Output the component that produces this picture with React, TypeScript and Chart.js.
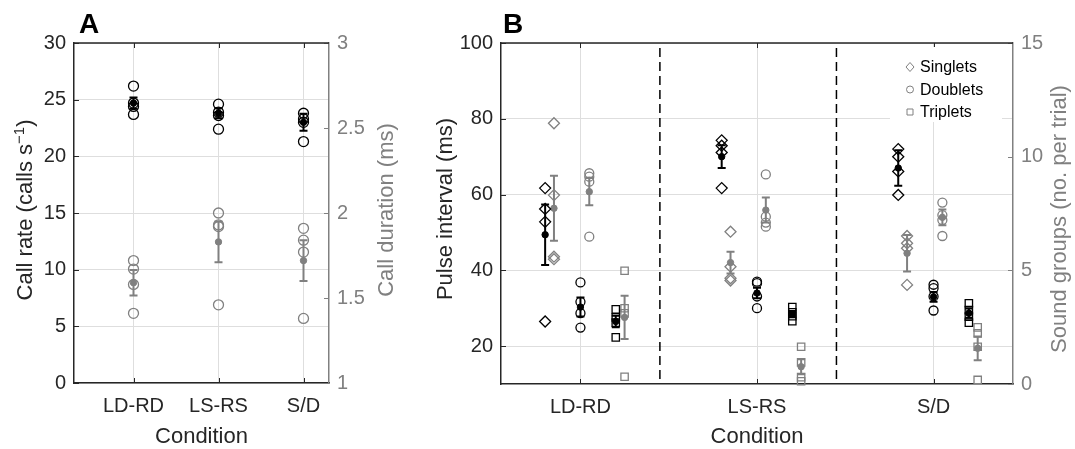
import React, { useEffect, useRef } from 'react';
import { Chart, registerables } from 'chart.js';
Chart.register(...registerables);

const FONT = '"Liberation Sans", Arial, Helvetica, sans-serif';
const DARK = '#262626';
const GRAY = '#808080';
const GRID = '#dedede';

const conditions = ['LD-RD', 'LS-RS', 'S/D'];

// ---------- Panel A ----------
const rateTicks = [0, 5, 10, 15, 20, 25, 30];
const durationTicks = [1, 1.5, 2, 2.5, 3];
const callRateRaw = [
  [26.2, 24.7, 24.4, 23.7],
  [24.6, 23.9, 23.6, 22.4],
  [23.8, 23.3, 23.0, 21.3],
];
const callRateMean = [24.7, 23.8, 23.0];
const callRateErr = [0.5, 0.45, 0.75];
const callDurRaw = [
  [1.72, 1.67, 1.58, 1.41],
  [2.0, 1.93, 1.92, 1.46],
  [1.91, 1.84, 1.77, 1.38],
];
const callDurMean = [1.59, 1.83, 1.72];
const callDurErr = [0.075, 0.12, 0.12];

// ---------- Panel B ----------
const pulseTicks = [20, 40, 60, 80, 100];
const groupTicks = [0, 5, 10, 15];
const groupNames = ['Singlets', 'Doublets', 'Triplets'];

const singletPulseRaw = [
  [61.7, 56.2, 52.8, 26.5],
  [74.3, 72.9, 71.1, 61.7],
  [72.0, 70.0, 66.1, 59.9],
];
const singletPulseMean = [49.4, 70.0, 67.0];
const singletPulseErr = [8.0, 3.0, 4.7];
const singletCountRaw = [
  [11.47, 8.31, 5.6, 5.49],
  [6.7, 5.16, 4.65, 4.55],
  [6.51, 6.19, 5.97, 4.36],
];
const singletCountMean = [7.73, 5.34, 5.75];
const singletCountErr = [1.43, 0.48, 0.8];

const doubletPulseRaw = [
  [36.8, 31.7, 28.7, 24.9],
  [37.0, 36.6, 33.1, 30.0],
  [36.2, 35.3, 33.1, 29.4],
];
const doubletPulseMean = [30.3, 34.0, 33.0];
const doubletPulseErr = [2.5, 1.4, 1.3];
const doubletCountRaw = [
  [9.27, 9.12, 8.9, 6.48],
  [9.22, 7.36, 7.1, 6.92],
  [7.98, 7.43, 7.21, 6.51],
];
const doubletCountMean = [8.46, 7.65, 7.33];
const doubletCountErr = [0.6, 0.55, 0.35];

const tripletPulseRaw = [
  [29.7, 27.6, 26.2, 22.3],
  [30.3, 28.9, 27.9, 26.6],
  [31.3, 29.5, 27.8, 26.2],
];
const tripletPulseMean = [26.5, 28.4, 28.7];
const tripletPulseErr = [1.5, 0.8, 1.2];
const tripletCountRaw = [
  [4.98, 3.33, 3.11, 0.32],
  [1.64, 0.95, 0.3, 0.12],
  [2.49, 2.23, 1.64, 0.18],
];
const tripletCountMean = [2.93, 0.76, 1.57];
const tripletCountErr = [0.95, 0.33, 0.52];

// layout constants (not data)
const blackOffsets = [-0.2, 0, 0.2];
const grayOffsets = [-0.15, 0.05, 0.25];
const dividers = [1.45, 2.45];

function rawSet(values: number[][], offset: number, axis: string, color: string, style: string, radius: number) {
  return {
    data: values.flatMap((vals, i) => vals.map((v) => ({ x: i + 1 + offset, y: v }))),
    yAxisID: axis,
    pointStyle: style,
    pointRadius: radius,
    pointHoverRadius: radius,
    pointBorderColor: color,
    pointBackgroundColor: 'rgba(0,0,0,0)',
    pointBorderWidth: 1.3,
    showLine: false,
    clip: false,
  };
}

function meanSet(means: number[], errs: number[], offset: number, axis: string, color: string) {
  return {
    data: means.map((m, i) => ({ x: i + 1 + offset, y: m })),
    errs,
    errColor: color,
    yAxisID: axis,
    pointStyle: 'circle',
    pointRadius: 3.2,
    pointHoverRadius: 3.2,
    pointBorderColor: color,
    pointBackgroundColor: color,
    pointBorderWidth: 1,
    showLine: false,
    clip: false,
  };
}

const errorBarPlugin = {
  id: 'errbars',
  beforeDatasetDraw(chart: any, args: any) {
    const ds = chart.data.datasets[args.index];
    if (!ds.errs) return;
    const ctx = chart.ctx;
    const xs = chart.scales.x;
    const ys = chart.scales[ds.yAxisID];
    ctx.save();
    ctx.strokeStyle = ds.errColor;
    ctx.lineWidth = 2;
    ds.data.forEach((p: any, i: number) => {
      const x = xs.getPixelForValue(p.x);
      const t = ys.getPixelForValue(p.y + ds.errs[i]);
      const b = ys.getPixelForValue(p.y - ds.errs[i]);
      ctx.beginPath();
      ctx.moveTo(x, t);
      ctx.lineTo(x, b);
      ctx.moveTo(x - 4, t);
      ctx.lineTo(x + 4, t);
      ctx.moveTo(x - 4, b);
      ctx.lineTo(x + 4, b);
      ctx.stroke();
    });
    ctx.restore();
  },
};

type Part = { text: string; sup?: boolean };

function drawRotTitle(ctx: CanvasRenderingContext2D, parts: Part[], baseX: number, cy: number, color: string) {
  const main = `22px ${FONT}`;
  const sup = `15px ${FONT}`;
  ctx.save();
  ctx.translate(baseX, cy);
  ctx.rotate(-Math.PI / 2);
  ctx.fillStyle = color;
  ctx.textBaseline = 'alphabetic';
  ctx.textAlign = 'left';
  let total = 0;
  parts.forEach((p) => {
    ctx.font = p.sup ? sup : main;
    total += ctx.measureText(p.text).width;
  });
  let x = -total / 2;
  parts.forEach((p) => {
    ctx.font = p.sup ? sup : main;
    ctx.fillText(p.text, x, p.sup ? -8 : 0);
    x += ctx.measureText(p.text).width;
  });
  ctx.restore();
}

function markerPath(ctx: CanvasRenderingContext2D, style: string, x: number, y: number) {
  ctx.beginPath();
  if (style === 'rectRot') {
    ctx.moveTo(x, y - 4.5);
    ctx.lineTo(x + 4, y);
    ctx.lineTo(x, y + 4.5);
    ctx.lineTo(x - 4, y);
    ctx.closePath();
  } else if (style === 'circle') {
    ctx.arc(x, y, 3.5, 0, Math.PI * 2);
  } else {
    ctx.rect(x - 3, y - 3, 6, 6);
  }
}

function decorPlugin(cfg: any) {
  return {
    id: 'decor',
    beforeDatasetsDraw(chart: any) {
      const { ctx, chartArea: a, scales } = chart;
      ctx.save();
      if (cfg.dividers) {
        ctx.strokeStyle = '#000';
        ctx.lineWidth = 1.5;
        ctx.setLineDash([9, 5]);
        cfg.dividers.forEach((d: number) => {
          const x = scales.x.getPixelForValue(d);
          ctx.beginPath();
          ctx.moveTo(x, a.top + 5);
          ctx.lineTo(x, a.bottom);
          ctx.stroke();
        });
        ctx.setLineDash([]);
      }
      ctx.lineWidth = 1;
      ctx.strokeStyle = DARK;
      ctx.beginPath();
      scales.x.ticks.forEach((t: any) => {
        const x = Math.round(scales.x.getPixelForValue(t.value)) + 0.5;
        ctx.moveTo(x, a.bottom);
        ctx.lineTo(x, a.bottom - 5);
        ctx.moveTo(x, a.top);
        ctx.lineTo(x, a.top + 5);
      });
      scales.y.ticks.forEach((t: any) => {
        const y = Math.round(scales.y.getPixelForValue(t.value)) + 0.5;
        ctx.moveTo(a.left, y);
        ctx.lineTo(a.left + 5, y);
      });
      ctx.stroke();
      ctx.strokeStyle = GRAY;
      ctx.beginPath();
      scales.y1.ticks.forEach((t: any) => {
        const y = Math.round(scales.y1.getPixelForValue(t.value)) + 0.5;
        ctx.moveTo(a.right, y);
        ctx.lineTo(a.right - 5, y);
      });
      ctx.stroke();
      ctx.strokeStyle = DARK;
      ctx.lineWidth = 1.5;
      ctx.beginPath();
      ctx.moveTo(a.left, a.top);
      ctx.lineTo(a.right, a.top);
      ctx.stroke();
      ctx.restore();
    },
    afterDraw(chart: any) {
      const { ctx, chartArea: a } = chart;
      ctx.save();
      ctx.font = `bold 28px ${FONT}`;
      ctx.fillStyle = '#000';
      ctx.textAlign = 'left';
      ctx.textBaseline = 'alphabetic';
      ctx.fillText(cfg.letter, cfg.letterX, 33);
      ctx.font = `22px ${FONT}`;
      ctx.fillStyle = DARK;
      ctx.textAlign = 'center';
      ctx.textBaseline = 'alphabetic';
      ctx.fillText('Condition', (a.left + a.right) / 2, 443);
      drawRotTitle(ctx, cfg.leftTitle, cfg.leftTitleX, cfg.leftTitleY, DARK);
      drawRotTitle(ctx, cfg.rightTitle, cfg.rightTitleX, cfg.rightTitleY, GRAY);
      if (cfg.legend) {
        const L = cfg.legend;
        ctx.fillStyle = '#fff';
        ctx.fillRect(L.x, L.y, L.w, L.h);
        const styles = ['rectRot', 'circle', 'rect'];
        groupNames.forEach((name, i) => {
          const y = L.y + 20 + i * 22.5;
          ctx.strokeStyle = GRAY;
          ctx.lineWidth = 1;
          markerPath(ctx, styles[i], L.x + 20, y);
          ctx.stroke();
          ctx.fillStyle = '#000';
          ctx.font = `16px ${FONT}`;
          ctx.textAlign = 'left';
          ctx.textBaseline = 'middle';
          ctx.fillText(name, L.x + 30, y + 1);
        });
      }
      ctx.restore();
    },
  };
}

function xScale(min: number, max: number, height: number) {
  return {
    type: 'linear',
    min,
    max,
    afterBuildTicks: (s: any) => {
      s.ticks = conditions.map((_, i) => ({ value: i + 1 }));
    },
    afterFit: (s: any) => {
      s.height = height;
    },
    ticks: {
      callback: (v: number) => conditions[Math.round(v) - 1] ?? '',
      font: { family: FONT, size: 20 },
      color: DARK,
      padding: 11,
      maxRotation: 0,
      autoSkip: false,
    },
    grid: { color: GRID, lineWidth: 1, drawTicks: false },
    border: { color: DARK, width: 1.5 },
  };
}

function yScale(position: string, min: number, max: number, ticks: number[], width: number, color: string, grid: boolean) {
  return {
    type: 'linear',
    position,
    min,
    max,
    afterBuildTicks: (s: any) => {
      s.ticks = ticks.map((v) => ({ value: v }));
    },
    afterFit: (s: any) => {
      s.width = width;
    },
    ticks: {
      callback: (v: number) => String(v),
      font: { family: FONT, size: 20 },
      color,
      padding: 8,
      autoSkip: false,
    },
    grid: grid
      ? { color: GRID, lineWidth: 1, drawTicks: false }
      : { drawOnChartArea: false, drawTicks: false },
    border: { color: color === GRAY ? GRAY : DARK, width: 1.5 },
  };
}

function baseOptions(scales: any) {
  return {
    animation: false,
    responsive: false,
    maintainAspectRatio: false,
    devicePixelRatio: 1,
    events: [],
    layout: { padding: { top: 43, left: 0, right: 0, bottom: 0 } },
    plugins: { legend: { display: false }, tooltip: { enabled: false }, title: { display: false } },
    scales,
  };
}

export default function App() {
  const refA = useRef<HTMLCanvasElement>(null);
  const refB = useRef<HTMLCanvasElement>(null);

  useEffect(() => {
    const dsA = [
      rawSet(callRateRaw, 0, 'y', '#000', 'circle', 5),
      meanSet(callRateMean, callRateErr, 0, 'y', '#000'),
      rawSet(callDurRaw, 0, 'y1', GRAY, 'circle', 5),
      meanSet(callDurMean, callDurErr, 0, 'y1', GRAY),
    ];
    const chartA = new Chart(refA.current as HTMLCanvasElement, {
      type: 'scatter',
      data: { datasets: dsA as any },
      options: baseOptions({
        x: xScale(0.3, 3.3, 66),
        y: yScale('left', 0, 30, rateTicks, 74, DARK, true),
        y1: yScale('right', 1, 3, durationTicks, 101, GRAY, false),
      }) as any,
      plugins: [
        errorBarPlugin,
        decorPlugin({
          letter: 'A',
          letterX: 79,
          leftTitle: [{ text: 'Call rate (calls s' }, { text: '\u22121', sup: true }, { text: ')' }],
          leftTitleX: 32,
          leftTitleY: 210,
          rightTitle: [{ text: 'Call duration (ms)' }],
          rightTitleX: 393,
          rightTitleY: 210,
        }),
      ] as any,
    });

    const dsB = [
      rawSet(singletPulseRaw, blackOffsets[0], 'y', '#000', 'rectRot', 5.5),
      meanSet(singletPulseMean, singletPulseErr, blackOffsets[0], 'y', '#000'),
      rawSet(singletCountRaw, grayOffsets[0], 'y1', GRAY, 'rectRot', 5.5),
      meanSet(singletCountMean, singletCountErr, grayOffsets[0], 'y1', GRAY),
      rawSet(doubletPulseRaw, blackOffsets[1], 'y', '#000', 'circle', 4.5),
      meanSet(doubletPulseMean, doubletPulseErr, blackOffsets[1], 'y', '#000'),
      rawSet(doubletCountRaw, grayOffsets[1], 'y1', GRAY, 'circle', 4.5),
      meanSet(doubletCountMean, doubletCountErr, grayOffsets[1], 'y1', GRAY),
      rawSet(tripletPulseRaw, blackOffsets[2], 'y', '#000', 'rect', 5.2),
      meanSet(tripletPulseMean, tripletPulseErr, blackOffsets[2], 'y', '#000'),
      rawSet(tripletCountRaw, grayOffsets[2], 'y1', GRAY, 'rect', 5.2),
      meanSet(tripletCountMean, tripletCountErr, grayOffsets[2], 'y1', GRAY),
    ];
    const chartB = new Chart(refB.current as HTMLCanvasElement, {
      type: 'scatter',
      data: { datasets: dsB as any },
      options: baseOptions({
        x: xScale(0.55, 3.45, 65),
        y: yScale('left', 10, 100, pulseTicks, 71, DARK, true),
        y1: yScale('right', 0, 15, groupTicks, 62, GRAY, false),
      }) as any,
      plugins: [
        errorBarPlugin,
        decorPlugin({
          letter: 'B',
          letterX: 73,
          dividers,
          leftTitle: [{ text: 'Pulse interval (ms)' }],
          leftTitleX: 22,
          leftTitleY: 209,
          rightTitle: [{ text: 'Sound groups (no. per trial)' }],
          rightTitleX: 636,
          rightTitleY: 219,
          legend: { x: 460, y: 47, w: 112, h: 75 },
        }),
      ] as any,
    });

    return () => {
      chartA.destroy();
      chartB.destroy();
    };
  }, []);

  return (
    <div style={{ position: 'absolute', left: 0, top: 0, width: 1075, height: 449, background: '#fff', overflow: 'hidden' }}>
      <canvas ref={refA} width={430} height={449} style={{ position: 'absolute', left: 0, top: 0, width: 430, height: 449 }} />
      <canvas ref={refB} width={645} height={449} style={{ position: 'absolute', left: 430, top: 0, width: 645, height: 449 }} />
    </div>
  );
}
